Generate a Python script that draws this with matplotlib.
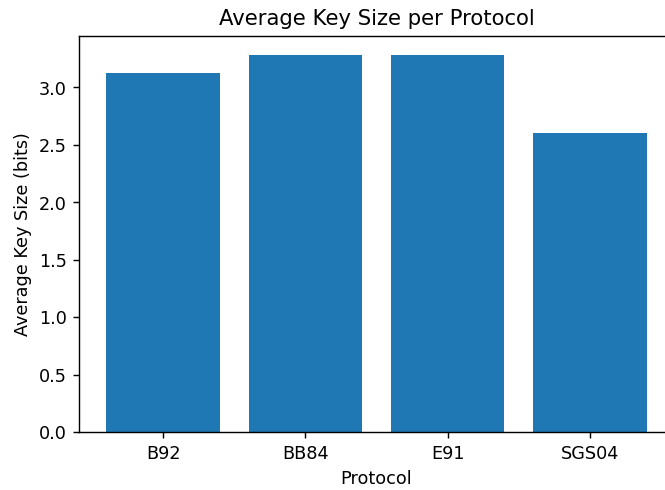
import matplotlib
matplotlib.use('Agg')
import matplotlib.pyplot as plt

protocols = ['B92', 'BB84', 'E91', 'SGS04']
avg_key_size = [3.12, 3.285, 3.285, 2.605]

dpi = 127
W, H = 665, 490
fig = plt.figure(figsize=((W + 0.4) / dpi, (H + 0.4) / dpi), dpi=dpi)
# right side of the axes runs past the figure edge, as in the cropped original
ax = fig.add_axes([79.3 / W, 58 / H, 594 / W, 396 / H])
ax.bar(protocols, avg_key_size, color='#1f77b4')
ax.set_xlabel('Protocol')
ax.set_ylabel('Average Key Size (bits)')
ax.set_title('Average Key Size per Protocol')

fig.savefig('out.png', dpi=dpi)
